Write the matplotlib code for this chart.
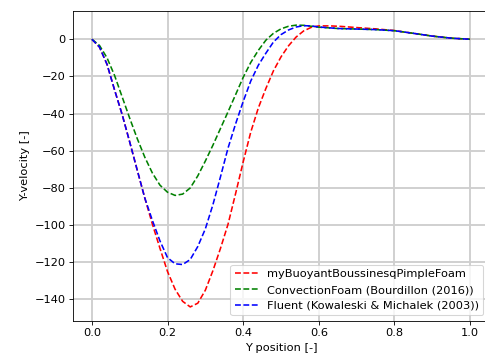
import matplotlib
matplotlib.use("Agg")
import matplotlib.pyplot as plt

plt.rcParams["font.size"] = 10.8

# myBuoyantBoussinesqPimpleFoam
x_red = [0.0, 0.02, 0.04, 0.06, 0.08, 0.10, 0.12, 0.14, 0.16, 0.18, 0.20, 0.22, 0.24,
         0.26, 0.28, 0.30, 0.32, 0.34, 0.36, 0.38, 0.40, 0.42, 0.44, 0.46, 0.48, 0.50,
         0.52, 0.54, 0.56, 0.58, 0.60, 0.63, 0.66, 0.70, 0.75, 0.80, 0.85, 0.90, 0.95, 1.0]
v_red = [0, -4.2, -13.5, -27.3, -40.5, -55.3, -70.5, -85.5, -99.5, -112.5, -125, -134.5, -141,
         -144, -142, -135, -124.5, -112.5, -99.5, -83, -66, -50, -37, -26.5, -17, -9.5,
         -3.5, 1.2, 4.5, 6.4, 7.2, 7.2, 6.9, 6.3, 5.6, 4.7, 3.2, 1.7, 0.6, 0]

# ConvectionFoam (Bourdillon (2016))
x_green = [0.0, 0.02, 0.04, 0.06, 0.08, 0.10, 0.12, 0.14, 0.16, 0.18, 0.20, 0.22, 0.24,
           0.26, 0.28, 0.30, 0.32, 0.34, 0.36, 0.38, 0.40, 0.42, 0.44, 0.46, 0.48, 0.50,
           0.52, 0.54, 0.56, 0.58, 0.60, 0.65, 0.70, 0.75, 0.80, 0.85, 0.90, 0.95, 1.0]
v_green = [0, -3.3, -10, -19.5, -31, -42.5, -53.5, -63.5, -72, -78.5, -82.3, -84, -83.3,
           -80, -73.5, -65.5, -57, -48, -39, -29.8, -20.5, -12.5, -6, -0.5, 3.2, 5.6,
           7.0, 7.6, 7.5, 7.0, 6.5, 5.8, 5.5, 5.2, 4.6, 3.2, 1.7, 0.6, 0]

# Fluent (Kowaleski & Michalek (2003))
x_blue = [0.0, 0.02, 0.04, 0.06, 0.08, 0.10, 0.12, 0.14, 0.16, 0.18, 0.20, 0.22, 0.24,
          0.26, 0.28, 0.30, 0.32, 0.34, 0.36, 0.38, 0.40, 0.42, 0.44, 0.46, 0.48, 0.50,
          0.52, 0.54, 0.56, 0.58, 0.60, 0.65, 0.70, 0.75, 0.80, 0.85, 0.90, 0.95, 1.0]
v_blue = [0, -4.2, -13.5, -27.3, -40.5, -55.3, -70.5, -85.5, -97.5, -108.5, -117.5, -120.8, -121.2,
          -118.5, -111.5, -102, -89, -74, -58.5, -45.5, -33.5, -22.5, -14, -7.5, -1.5, 2.5,
          5.0, 6.6, 7.3, 7.2, 6.6, 5.8, 5.5, 5.2, 4.6, 3.2, 1.7, 0.6, 0]

dpi = 76
fig = plt.figure(figsize=(485 / dpi, 360 / dpi), dpi=dpi)
ax = fig.add_axes([0.1505, 0.1083, 0.8577, 0.861])

ax.plot(x_red, v_red, "r--", label="myBuoyantBoussinesqPimpleFoam")
ax.plot(x_green, v_green, "g--", label="ConvectionFoam (Bourdillon (2016))")
ax.plot(x_blue, v_blue, "b--", label="Fluent (Kowaleski & Michalek (2003))")

ax.set_xlabel("Y position [-]")
ax.set_ylabel("Y-velocity [-]")
ax.grid(True, color="#cfcfcf", linewidth=1.8)
ax.legend(loc="lower right")

plt.savefig("out.png", dpi=dpi)
